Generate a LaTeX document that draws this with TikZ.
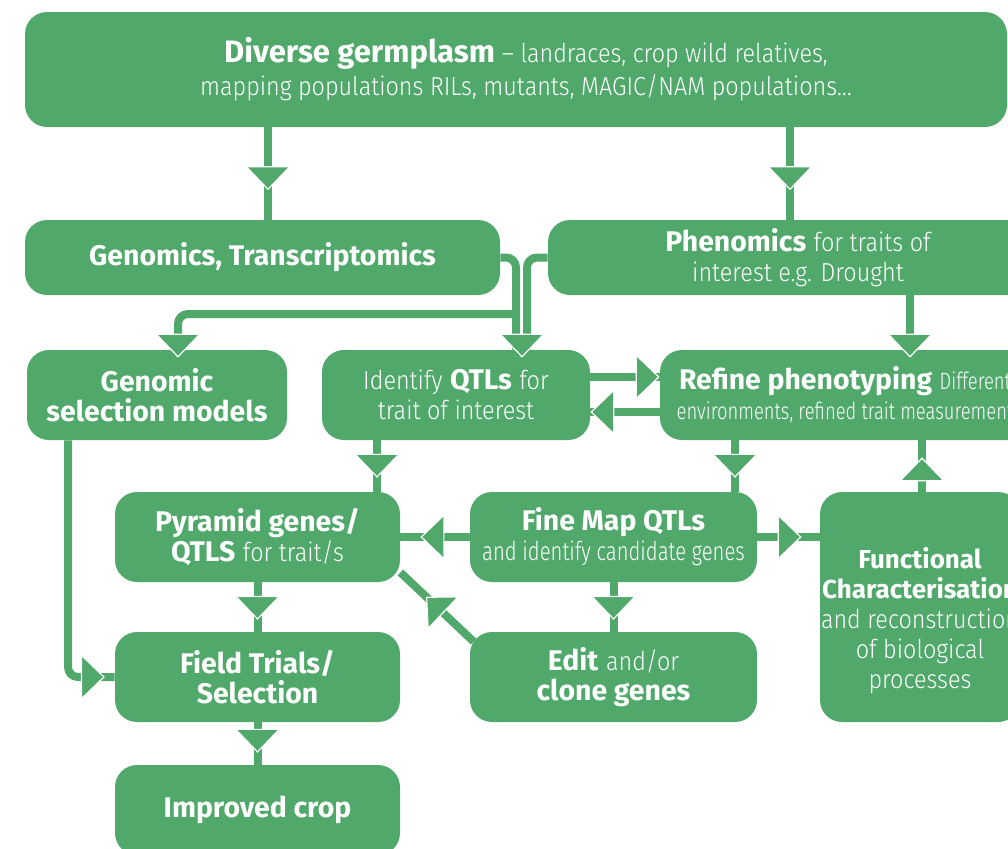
\documentclass[tikz,border=0pt]{standalone}
\usepackage{fontspec}
\setmainfont{Fira Sans}
\newfontfamily\lite{Fira Sans Light}[FakeStretch=0.9]
\newfontfamily\litecond{Fira Sans Light}[FakeStretch=0.78]
\newcommand{\lighttext}[1]{{\fontsize{13}{15}\selectfont\lite #1}}
\newcommand{\wideline}[1]{\makebox[0pt]{#1}}
\usetikzlibrary{arrows.meta,decorations.markings}
\definecolor{leaf}{RGB}{80,168,106}

\begin{document}
\begin{tikzpicture}[x=0.5pt,y=-0.5pt,
	box/.style={fill=leaf, rounded corners=11pt, text=white, align=center, inner sep=0pt,
		font=\fontsize{14.2}{15}\selectfont},
	link/.style={draw=leaf, line width=4pt, rounded corners=5pt},
	midtip/.style={postaction={decorate, decoration={markings,
		mark=at position #1 with {\arrow{Triangle[width=23pt,length=12pt,color=white,fill=leaf,line width=0.6pt]}}}}}]
		\clip (0,0) rectangle (1008,848);
		\node[box, minimum width=491pt, minimum height=57.5pt, font=\fontsize{13}{16.5}\selectfont] (germ) at (516,69.5)
			{\hspace*{10pt}{\fontsize{15.5}{16.5}\selectfont\bfseries Diverse germplasm} \lighttext{– landraces, crop wild relatives,}\\
			\hspace*{10pt}\lighttext{mapping populations RILs, mutants, MAGIC/NAM populations…}};
		\node[box, minimum width=237.5pt, minimum height=37.5pt] (genom) at (262.5,257.5)
			{\bfseries Genomics, Transcriptomics};
		\node[box, minimum width=250pt, minimum height=37.5pt] (phen) at (798,257.5)
			{\textbf{Phenomics} \lighttext{for traits of}\\\lighttext{interest e.g. Drought}};
		\node[box, minimum width=130pt, minimum height=45pt] (gsel) at (157,395)
			{\bfseries Genomic\\\bfseries selection models};
		\node[box, minimum width=134pt, minimum height=45pt] (qtl) at (456,395)
			{\lighttext{Identify} \textbf{QTLs} \lighttext{for}\\\lighttext{trait of interest}};
		\node[box, minimum width=185pt, minimum height=45pt] (refine) at (845,395)
			{\wideline{\textbf{Refine phenotyping} {\fontsize{11.8}{15}\selectfont\litecond Different}}\\
			\wideline{\fontsize{11.8}{15}\selectfont\litecond environments, refined trait measurement}};
		\node[box, minimum width=142.5pt, minimum height=45pt] (pyr) at (257.5,537)
			{\textbf{Pyramid genes/}\\\textbf{QTLS} \lighttext{for trait/s}};
		\node[box, minimum width=143.5pt, minimum height=45pt] (fine) at (613.5,537)
			{\textbf{Fine Map QTLs}\\{\fontsize{13}{15}\selectfont\litecond and identify candidate genes}};
		\node[box, minimum width=100pt, minimum height=115pt, font=\fontsize{13}{15}\selectfont] (func) at (920,607)
			{\rule{0pt}{24pt}\textbf{Functional}\\\wideline{\textbf{Characterisation}}\\\wideline{\lighttext{and reconstruction}}\\
			\lighttext{of biological}\\\lighttext{processes}};
		\node[box, minimum width=142.5pt, minimum height=45pt] (field) at (257.5,677)
			{\textbf{Field Trials/}\\\textbf{Selection}};
		\node[box, minimum width=143.5pt, minimum height=45pt] (edit) at (613.5,677)
			{\textbf{Edit} \lighttext{and/or}\\\textbf{clone genes}};
		\node[box, minimum width=142.5pt, minimum height=45pt] (crop) at (257.5,810)
			{\bfseries Improved crop};

		\draw[link, midtip=0.68] ([xshift=2.75pt]genom.north |- germ.south) -- ([xshift=2.75pt]genom.north);
		\draw[link, midtip=0.68] ([xshift=-4pt]phen.north |- germ.south) -- ([xshift=-4pt]phen.north);
		\coordinate (split) at ([xshift=30pt]qtl.north |- 0,314);
		\draw[link] (genom.east) -| ([xshift=30pt]qtl.north);
		\draw[link] (phen.west) -| ([xshift=35.5pt]qtl.north);
		\draw[link, midtip=1] (split) -| ([xshift=10.5pt,yshift=-4pt]gsel.north);
		\path[midtip=1] ([xshift=33pt,yshift=6pt]qtl.north) -- ([xshift=33pt,yshift=-4pt]qtl.north);
		\draw[link, midtip=1] ([xshift=56pt]phen.south) -- ([xshift=32.5pt,yshift=-4pt]refine.north);
		\draw[link, midtip=1] ([yshift=9pt]qtl.east) -- ([yshift=9pt]refine.west);
		\draw[link, midtip=1] ([yshift=-8.5pt]refine.west) -- ([yshift=-8.5pt]qtl.east);
		\draw[link, midtip=0.73] ([xshift=-39.5pt]qtl.south) -- ([xshift=59.75pt]pyr.north);
		\draw[link, midtip=0.73] ([xshift=-55pt]refine.south) -- ([xshift=60.75pt]fine.north);
		\draw[link, midtip=0.71] (fine.west) -- (pyr.east);
		\draw[link, midtip=0.71] (fine.east) -- ([yshift=35pt]func.west);
		\draw[link, midtip=0.67] ([xshift=1pt]func.north) -- ([xshift=38.5pt]refine.south);
		\draw[link, midtip=0.76] (fine.south) -- (edit.north);
		\draw[link, midtip=0.65] ([xshift=2pt,yshift=-5pt]edit.north west) -- ([yshift=5pt]pyr.south east);
		\draw[link, midtip=0.76] (pyr.south) -- (field.north);
		\draw[link, midtip=0.965] ([xshift=-44.5pt]gsel.south) |- (field.west);
		\draw[link, midtip=0.72] (field.south) -- (crop.north);
\end{tikzpicture}
\end{document}
